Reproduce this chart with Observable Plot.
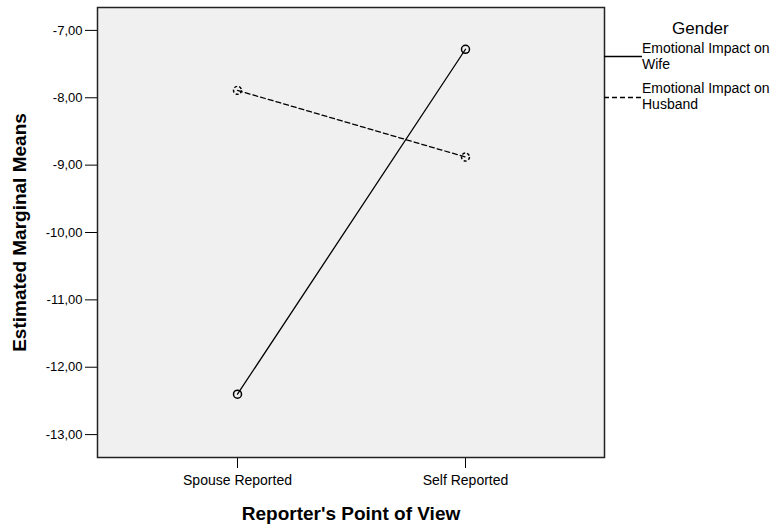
<!DOCTYPE html>
<html>
<head>
<meta charset="utf-8">
<script src="https://cdn.jsdelivr.net/npm/d3@7"></script>
<script src="https://cdn.jsdelivr.net/npm/@observablehq/plot@0.6"></script>
<style>
  body { margin: 0; background: #fff; font-family: "Liberation Sans", Arial, sans-serif; }
  #wrap { position: relative; width: 773px; height: 524px; }
  #legend { position: absolute; left: 604px; top: 0; width: 169px; font-family: "Liberation Sans", Arial, sans-serif; color: #000; }
</style>
</head>
<body>
<div id="wrap"><div id="legend"></div></div>
<script>
const categories = ["Spouse Reported", "Self Reported"];
const seriesNames = ["Emotional Impact on Wife", "Emotional Impact on Husband"];
const wifeValues = [-12.40, -7.28];
const husbandValues = [-7.89, -8.88];
const yTicks = [-7, -8, -9, -10, -11, -12, -13];

const data = [];
categories.forEach((c, i) => {
  data.push({view: c, gender: seriesNames[0], value: wifeValues[i]});
  data.push({view: c, gender: seriesNames[1], value: husbandValues[i]});
});
const wife = data.filter(d => d.gender === seriesNames[0]);
const husband = data.filter(d => d.gender === seriesNames[1]);
const fmt = d => d.toFixed(2).replace(".", ",");

const chart = Plot.plot({
  width: 773,
  height: 524,
  marginLeft: 97,
  marginRight: 169,
  marginTop: 7,
  marginBottom: 67,
  style: {fontFamily: "Liberation Sans, Arial, sans-serif", fontSize: "13px", color: "#000", background: "#fff"},
  x: {type: "point", domain: categories, padding: 0.61},
  y: {domain: [-13.34, -6.66]},
  marks: [
    Plot.frame({fill: "#f0f0f0", stroke: "none"}),
    Plot.axisY({ticks: yTicks, tickFormat: fmt, tickSize: 12, tickPadding: 3, fontSize: 13,
      label: "Estimated Marginal Means", labelAnchor: "center", labelArrow: "none", labelOffset: 85}),
    Plot.axisX({tickSize: 11, tickPadding: 7, fontSize: 14,
      label: "Reporter's Point of View", labelAnchor: "center", labelArrow: "none", labelOffset: 62}),
    Plot.line(wife, {x: "view", y: "value", stroke: "#000", strokeWidth: 1.3}),
    Plot.line(husband, {x: "view", y: "value", stroke: "#000", strokeWidth: 1.3, strokeDasharray: "5,3"}),
    Plot.dot(wife, {x: "view", y: "value", r: 4, stroke: "#000", strokeWidth: 1.5, fill: "none"}),
    Plot.dot(husband, {x: "view", y: "value", r: 4, stroke: "#000", strokeWidth: 1.5, fill: "none", strokeDasharray: "3,2"}),
    Plot.frame({stroke: "#222", strokeWidth: 1.5})
  ]
});
// bold axis titles
chart.querySelectorAll("[aria-label='y-axis label'] text, [aria-label='x-axis label'] text").forEach(t => {
  t.setAttribute("font-weight", "bold");
  t.setAttribute("font-size", "19");
});
document.getElementById("wrap").insertBefore(chart, document.getElementById("legend"));

// legend
const lg = document.getElementById("legend");
lg.innerHTML = `
<div style="position:absolute;left:68px;top:20px;font-size:17px;line-height:17px;">Gender</div>
<svg style="position:absolute;left:0;top:0" width="40" height="120">
  <line x1="0" x2="38" y1="56.5" y2="56.5" stroke="#000" stroke-width="1.3"/>
  <line x1="0" x2="38" y1="97.5" y2="97.5" stroke="#000" stroke-width="1.3" stroke-dasharray="5,3"/>
</svg>
<div style="position:absolute;left:38px;top:40px;font-size:14px;line-height:16px;white-space:nowrap;">Emotional Impact on<br>Wife</div>
<div style="position:absolute;left:38px;top:80px;font-size:14px;line-height:16px;white-space:nowrap;">Emotional Impact on<br>Husband</div>
`;
</script>
</body>
</html>
